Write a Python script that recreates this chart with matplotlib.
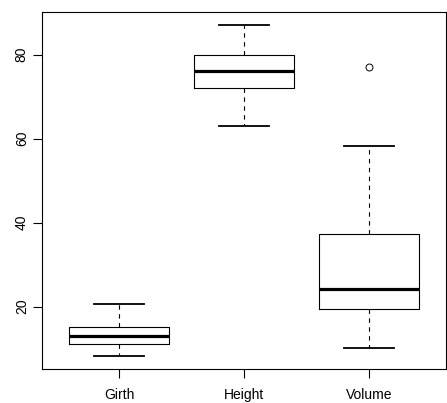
import numpy as np
import matplotlib.pyplot as plt

plt.rcParams['font.family'] = ['Liberation Sans', 'DejaVu Sans']

labels = ["Girth", "Height", "Volume"]
whislo = [8.3, 63.0, 10.2]
q1 = [11.05, 72.0, 19.4]
med = [12.9, 76.0, 24.2]
q3 = [15.25, 80.0, 37.3]
whishi = [20.6, 87.0, 58.3]
fliers = [[], [], [77.0]]

stats = []
for i in range(len(labels)):
    stats.append(dict(label=labels[i], whislo=whislo[i], q1=q1[i], med=med[i],
                      q3=q3[i], whishi=whishi[i], fliers=fliers[i]))

fig = plt.figure(figsize=(4.47, 4.03), dpi=100)
ax = fig.add_axes([42/447, 1-369/403, 404/447, 357/403])

lw = 0.8
ax.bxp(stats, positions=[1, 2, 3], widths=0.8, capwidths=0.4,
       boxprops=dict(color='black', linewidth=lw),
       medianprops=dict(color='black', linewidth=2.3, solid_capstyle='butt'),
       whiskerprops=dict(color='black', linewidth=lw, linestyle=(0, (4, 4))),
       capprops=dict(color='black', linewidth=1.3),
       flierprops=dict(marker='o', markersize=5, markerfacecolor='none',
                       markeredgecolor='black', markeredgewidth=0.7))

ax.set_xlim(0.38, 3.62)
ax.set_ylim(5.15, 90.15)
ax.set_yticks([20, 40, 60, 80])
ax.set_yticklabels(["20", "40", "60", "80"], rotation=90, va='center')
ax.tick_params(axis='both', length=6.5, width=0.8, labelsize=10, color='black')
ax.tick_params(axis='y', pad=3)
ax.tick_params(axis='x', pad=7.5)
for s in ax.spines.values():
    s.set_linewidth(0.8)

fig.savefig("out.png", dpi=100)
